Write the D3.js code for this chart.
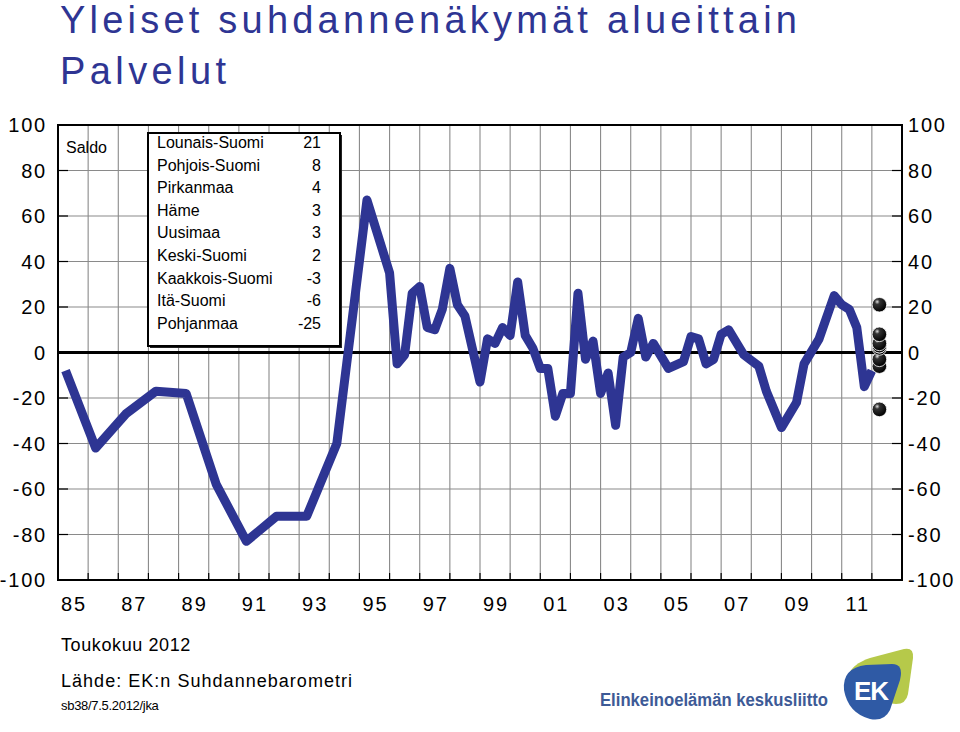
<!DOCTYPE html>
<html><head><meta charset="utf-8">
<script src="https://cdn.jsdelivr.net/npm/d3@7"></script>
<style>body{margin:0;background:#fff}svg{display:block}text{font-family:"Liberation Sans",Arial,sans-serif}</style>
</head><body><svg id="c" width="960" height="732"></svg>
<script>
// ---- data ----
const dates = [1985.25,1986.25,1987.25,1988.25,1989.25,1990.25,1991.25,1992.25,1993.25,1994.25,1995.25,1996.0,1996.25,1996.5,1996.75,1997.0,1997.25,1997.5,1997.75,1998.0,1998.25,1998.5,1999.0,1999.25,1999.5,1999.75,2000.0,2000.25,2000.5,2000.75,2001.0,2001.25,2001.5,2001.75,2002.0,2002.25,2002.5,2002.75,2003.0,2003.25,2003.5,2003.75,2004.0,2004.25,2004.5,2004.75,2005.25,2005.75,2006.0,2006.25,2006.5,2006.75,2007.0,2007.25,2007.75,2008.25,2008.5,2009.0,2009.5,2009.75,2010.25,2010.75,2011.0,2011.25,2011.5,2011.75,2012.0];
const saldo = [-8,-42,-27,-17,-18,-58,-83,-72,-72,-40,67,35,-5,-1,26,29,11,10,19,37,21,16,-13,6,4,11,7.5,31,7.5,2,-7,-7,-28,-18,-18,26,-3,5,-18,-9,-32,-2,0,15,-2,4,-7,-4,7,6,-5,-3,8,10,-1,-6,-17,-33,-22,-5,6,25,21,19,11,-15,-8];
const regions = ["Lounais-Suomi","Pohjois-Suomi","Pirkanmaa","Häme","Uusimaa","Keski-Suomi","Kaakkois-Suomi","Itä-Suomi","Pohjanmaa"];
const regionValues = [21,8,4,3,3,2,-3,-6,-25];
const regionDate = 2012.25;
const yTicks = [-100,-80,-60,-40,-20,0,20,40,60,80,100];
const xLabelYears = [1985,1987,1989,1991,1993,1995,1997,1999,2001,2003,2005,2007,2009,2011];
const xLabels = ["85","87","89","91","93","95","97","99","01","03","05","07","09","11"];
const titleLines = ["Yleiset suhdannenäkymät alueittain","Palvelut"];

// ---- chart ----
const svg = d3.select("#c");
const L=58,R=902,T=125,B=580;
const x = d3.scaleLinear().domain([1985,2013]).range([L,R]);
const y = d3.scaleLinear().domain([-100,100]).range([B,T]);
const blue = "#2e3593";

svg.append("text").attr("x",60).attr("y",33).attr("font-size",38).attr("fill",blue)
  .attr("textLength",737).attr("lengthAdjust","spacing").text(titleLines[0]);
svg.append("text").attr("x",60).attr("y",84).attr("font-size",38).attr("fill",blue)
  .attr("textLength",166).attr("lengthAdjust","spacing").text(titleLines[1]);

const g = svg.append("g");
// grid
const yrs = d3.range(1986,2013);
g.selectAll(".vg").data(yrs).join("line").attr("x1",d=>x(d)).attr("x2",d=>x(d)).attr("y1",T).attr("y2",B)
  .attr("stroke","#8a8a8a").attr("stroke-width",1.1);
g.selectAll(".hg").data(yTicks.filter(v=>v!==-100&&v!==100&&v!==0)).join("line").attr("x1",L).attr("x2",R)
  .attr("y1",d=>y(d)).attr("y2",d=>y(d)).attr("stroke","#8a8a8a").attr("stroke-width",1.1);
// ticks
g.selectAll(".lt").data(yTicks).join("line").attr("x1",L).attr("x2",L+10).attr("y1",d=>y(d)).attr("y2",d=>y(d)).attr("stroke","#000").attr("stroke-width",1.2);
g.selectAll(".rt").data(yTicks).join("line").attr("x1",R-10).attr("x2",R).attr("y1",d=>y(d)).attr("y2",d=>y(d)).attr("stroke","#000").attr("stroke-width",1.2);
g.selectAll(".bt").data(yrs).join("line").attr("x1",d=>x(d)).attr("x2",d=>x(d)).attr("y1",B).attr("y2",B-7).attr("stroke","#000").attr("stroke-width",1.2);
// zero line
g.append("line").attr("x1",L).attr("x2",R).attr("y1",y(0)).attr("y2",y(0)).attr("stroke","#000").attr("stroke-width",3);
// frame
g.append("rect").attr("x",L).attr("y",T).attr("width",R-L).attr("height",B-T).attr("fill","none").attr("stroke","#000").attr("stroke-width",2);

// axis labels
svg.selectAll(".yl").data(yTicks).join("text").attr("x",47).attr("y",d=>y(d)+7).attr("text-anchor","end")
  .attr("font-size",20).attr("letter-spacing",1.8).text(d=>d);
svg.selectAll(".yr").data(yTicks).join("text").attr("x",908).attr("y",d=>y(d)+7)
  .attr("font-size",20).attr("letter-spacing",1.8).text(d=>d);
svg.selectAll(".xl").data(xLabelYears).join("text").attr("x",d=>x(d+0.5)+1).attr("y",611).attr("text-anchor","middle")
  .attr("font-size",20).attr("letter-spacing",2).text((d,i)=>xLabels[i]);

svg.append("text").attr("x",66).attr("y",153).attr("font-size",16).text("Saldo");

// legend box
const lg = svg.append("g");
lg.append("rect").attr("x",150).attr("y",135).attr("width",192).attr("height",213).attr("fill","#222");
lg.append("rect").attr("x",148).attr("y",133).attr("width",192).attr("height",213).attr("fill","#fff").attr("stroke","#000").attr("stroke-width",2);
lg.selectAll(".ln").data(regions).join("text").attr("x",157).attr("y",(d,i)=>148+i*22.6).attr("font-size",16).text(d=>d);
lg.selectAll(".lv").data(regionValues).join("text").attr("x",321).attr("y",(d,i)=>148+i*22.6).attr("font-size",16).attr("text-anchor","end").text(d=>d);

// line
const pts = dates.map((t,i)=>({t,v:saldo[i]}));
svg.append("path").datum(pts).attr("fill","none").attr("stroke",blue).attr("stroke-width",9)
  .attr("stroke-linejoin","round").attr("stroke-linecap","butt")
  .attr("d",d3.line().x(d=>x(d.t)).y(d=>y(d.v)));

// dots
const defs = svg.append("defs");
const rg = defs.append("radialGradient").attr("id","ball").attr("cx","35%").attr("cy","30%").attr("r","70%");
rg.append("stop").attr("offset","0%").attr("stop-color","#ddd");
rg.append("stop").attr("offset","25%").attr("stop-color","#333");
rg.append("stop").attr("offset","100%").attr("stop-color","#000");
svg.selectAll(".dot").data(regionValues.slice().reverse()).join("circle").attr("cx",x(regionDate)).attr("cy",d=>y(d)).attr("r",7.3)
  .attr("fill","url(#ball)").attr("stroke","#fff").attr("stroke-width",0.8);

// footer
svg.append("text").attr("x",61).attr("y",651).attr("font-size",18).attr("letter-spacing",0.6).text("Toukokuu 2012");
svg.append("text").attr("x",61).attr("y",687).attr("font-size",18).attr("textLength",291).attr("lengthAdjust","spacing").text("Lähde: EK:n Suhdannebarometri");
svg.append("text").attr("x",61).attr("y",710).attr("font-size",13).attr("letter-spacing",-0.3).text("sb38/7.5.2012/jka");

// logo
const logo = svg.append("g");
logo.append("text").attr("x",600).attr("y",706).attr("font-family","'Open Sans',sans-serif").attr("font-weight",600)
  .attr("font-size",18).attr("fill","#3d5a96").attr("textLength",228).attr("lengthAdjust","spacingAndGlyphs").text("Elinkeinoelämän keskusliitto");
logo.append("path").attr("fill","#b6c94a")
  .attr("d","M848 676 Q852 664 870 658 L904 649 Q914 647 913 658 L908 694 Q906 704 896 704 L860 700 Z");
logo.append("path").attr("fill","#2f5aa5")
  .attr("d","M844 690 Q842 668 866 665 L892 664 Q904 664 900 680 L890 710 Q884 722 870 719 Q848 713 844 690 Z");
logo.append("text").attr("x",871).attr("y",700).attr("text-anchor","middle").attr("font-family","'Liberation Sans',Arial,sans-serif")
  .attr("font-weight",700).attr("font-size",26).attr("fill","#fff").attr("letter-spacing",-1).text("EK");
</script></body></html>
